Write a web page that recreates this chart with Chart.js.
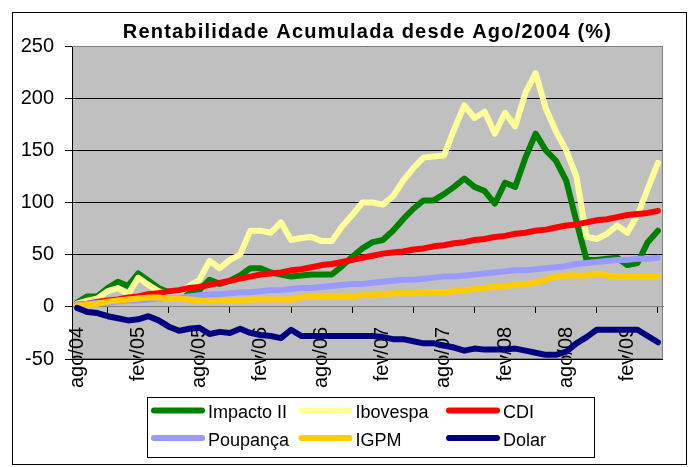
<!DOCTYPE html>
<html>
<head>
<meta charset="utf-8">
<script src="https://cdn.jsdelivr.net/npm/chart.js@4/dist/chart.umd.min.js"></script>
<style>
  body { margin: 0; background: #fff; }
</style>
</head>
<body>
<canvas id="rentChart" width="693" height="467"></canvas>
<script>
var titleText = "Rentabilidade Acumulada desde Ago/2004 (%)";

var months = ["ago/04","set/04","out/04","nov/04","dez/04","jan/05",
  "fev/05","mar/05","abr/05","mai/05","jun/05","jul/05",
  "ago/05","set/05","out/05","nov/05","dez/05","jan/06",
  "fev/06","mar/06","abr/06","mai/06","jun/06","jul/06",
  "ago/06","set/06","out/06","nov/06","dez/06","jan/07",
  "fev/07","mar/07","abr/07","mai/07","jun/07","jul/07",
  "ago/07","set/07","out/07","nov/07","dez/07","jan/08",
  "fev/08","mar/08","abr/08","mai/08","jun/08","jul/08",
  "ago/08","set/08","out/08","nov/08","dez/08","jan/09",
  "fev/09","mar/09","abr/09","mai/09"];

var impacto = [4,10,10,18,24,20,32,25,18,14,12,14,16,26,22,25,30,37,37,33,31,29,30,31,31,31,39,48,56,62,64,73,84,94,102,102,108,115,123,115,111,99,119,115,143,166,150,140,121,82,45,45,46,47,40,42,62,73];
var ibovespa = [3,6,8,15,18,12,28,21,15,12,13,20,26,44,37,45,50,73,73,71,81,64,66,67,63,63,77,88,100,100,98,106,121,133,143,144,145,170,193,181,187,166,186,173,205,224,190,168,150,125,67,65,70,78,71,88,113,138];
var cdi = [2,3,5,6,7,9,10,12,13,15,16,18,19,21,23,25,27,29,31,32,33,35,36,38,40,41,43,45,47,49,51,52,53,55,56,58,59,61,62,64,65,67,68,70,71,73,74,76,78,79,81,83,84,86,88,89,90,92];
var poupanca = [2,3,4,4,5,6,6,7,8,9,9,10,11,12,12,13,14,14,15,16,16,17,18,18,19,20,21,22,22,23,24,25,26,26,27,28,29,29,30,31,32,33,34,35,35,36,37,38,39,41,42,43,44,45,45,46,46,47];
var igpm = [1,2,3,5,6,7,8,9,9,8,8,7,6,5,6,6,6,7,7,7,7,7,9,10,10,10,10,10,11,11,12,13,13,13,14,14,14,15,16,17,18,19,20,21,22,23,26,29,30,30,30,32,30,29,29,29,29,29];
var dolar = [-1,-5,-6,-9,-11,-13,-12,-9,-13,-19,-23,-21,-20,-26,-24,-25,-21,-25,-27,-28,-30,-22,-28,-28,-28,-28,-28,-28,-28,-28,-29,-31,-31,-33,-35,-35,-37,-39,-42,-40,-41,-41,-41,-40,-42,-44,-46,-46,-43,-35,-29,-22,-22,-22,-22,-22,-28,-34];

var seriesNames = ["Impacto II", "Ibovespa", "CDI", "Poupança", "IGPM", "Dolar"];
var seriesColors = ["#008000", "#FFFF99", "#FF0000", "#9999FF", "#FFCC00", "#000080"];
var seriesValues = [impacto, ibovespa, cdi, poupanca, igpm, dolar];

var fontFamily = '"Liberation Sans", Arial, sans-serif';

var datasets = [];
for (var k = 0; k < seriesNames.length; k++) {
  datasets.push({
    label: seriesNames[k],
    data: seriesValues[k],
    borderColor: seriesColors[k],
    backgroundColor: seriesColors[k],
    order: seriesNames.length - 1 - k   // later series on top, like excel
  });
}

// plot background, borders, title and boxed legend
var excelLook = {
  id: 'excelLook',
  beforeDraw: function(chart) {
    var ctx = chart.ctx, a = chart.chartArea;
    ctx.save();
    ctx.fillStyle = '#fff';
    ctx.fillRect(0, 0, chart.width, chart.height);
    ctx.strokeStyle = '#000';
    ctx.lineWidth = 1;
    ctx.strokeRect(12.5, 12.5, 674, 452);
    ctx.fillStyle = '#C0C0C0';
    ctx.fillRect(a.left, a.top, a.right - a.left, a.bottom - a.top);
    ctx.restore();
  },
  beforeDatasetsDraw: function(chart) {
    var ctx = chart.ctx, a = chart.chartArea;
    ctx.save();
    ctx.strokeStyle = '#808080';
    ctx.lineWidth = 1;
    ctx.beginPath();
    ctx.moveTo(a.left, a.top + 0.5);
    ctx.lineTo(a.right - 0.5, a.top + 0.5);
    ctx.lineTo(a.right - 0.5, a.bottom - 0.5);
    ctx.lineTo(a.left, a.bottom - 0.5);
    ctx.stroke();
    ctx.restore();
  },
  afterDraw: function(chart) {
    var ctx = chart.ctx, a = chart.chartArea;
    ctx.save();
    // title
    ctx.fillStyle = '#000';
    ctx.font = 'bold 20px ' + fontFamily;
    ctx.letterSpacing = '1.2px';
    ctx.textAlign = 'center';
    ctx.textBaseline = 'alphabetic';
    ctx.fillText(titleText, (a.left + a.right) / 2, 38);
    ctx.letterSpacing = '0px';

    // legend
    ctx.strokeStyle = '#000';
    ctx.lineWidth = 1;
    ctx.strokeRect(147.5, 397.5, 447, 60);
    ctx.font = '18px ' + fontFamily;
    ctx.textAlign = 'left';
    var ds = chart.data.datasets;
    for (var i = 0; i < ds.length; i++) {
      var col = i % 3, row = Math.floor(i / 3);
      var x0 = 154 + col * 147.5;
      var ly = 410.5 + row * 27.5;
      ctx.strokeStyle = ds[i].borderColor;
      ctx.lineWidth = 6;
      ctx.lineCap = 'round';
      ctx.beginPath();
      ctx.moveTo(x0, ly);
      ctx.lineTo(x0 + 48, ly);
      ctx.stroke();
      ctx.fillStyle = '#000';
      ctx.fillText(ds[i].label, x0 + 54, ly + 7.5);
    }
    ctx.restore();
  }
};

var rentChart = new Chart(document.getElementById('rentChart'), {
  type: 'line',
  data: { labels: months, datasets: datasets },
  plugins: [excelLook],
  options: {
    responsive: false,
    animation: false,
    layout: { padding: { left: 0, top: 46, right: 30, bottom: 108 } },
    elements: {
      point: { radius: 0, hoverRadius: 0 },
      line: { borderWidth: 6, tension: 0, borderJoinStyle: 'round', borderCapStyle: 'round', fill: false }
    },
    plugins: {
      legend: { display: false },
      title: { display: false },
      tooltip: { enabled: false }
    },
    scales: {
      x: {
        type: 'category',
        position: { y: 0 },
        offset: true,
        grid: { offset: true, drawOnChartArea: false, tickLength: 6, color: '#000' },
        border: { color: '#808080', width: 1 },
        ticks: {
          autoSkip: false,
          maxRotation: 90,
          minRotation: 90,
          padding: 14,
          color: '#000',
          font: { family: fontFamily, size: 20 },
          callback: function(v, i) { return i % 6 === 0 ? months[i] : null; }
        }
      },
      y: {
        min: -50,
        max: 250,
        afterFit: function(s) { s.width = 72; },
        grid: { color: '#000', lineWidth: 1, tickLength: 7 },
        border: { color: '#000', width: 1 },
        ticks: {
          stepSize: 50,
          padding: 11,
          color: '#000',
          font: { family: fontFamily, size: 20 }
        }
      }
    }
  }
});
</script>
</body>
</html>
